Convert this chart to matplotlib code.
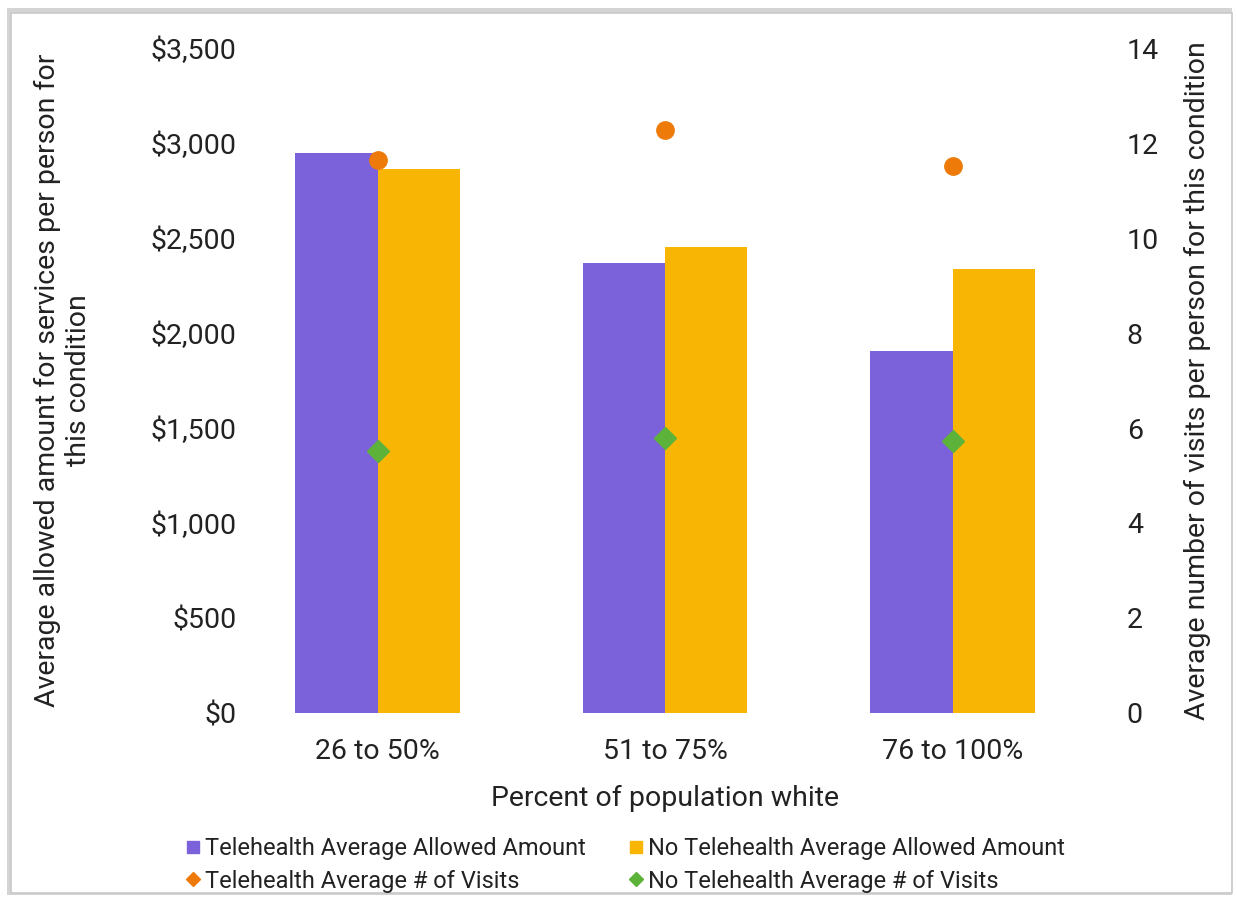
import matplotlib
import matplotlib.pyplot as plt
import numpy as np
from matplotlib.lines import Line2D
from matplotlib.patches import FancyBboxPatch
from matplotlib.ticker import FuncFormatter

matplotlib.use("Agg")

# data
kategorier = ["26 to 50%", "51 to 75%", "76 to 100%"]
tele_beloeb = [2950, 2370, 1905]
ingen_tele_beloeb = [2865, 2455, 2335]
tele_besoeg = [11.65, 12.28, 11.52]
ingen_tele_besoeg = [5.52, 5.78, 5.72]

LILLA = "#7B62DA"
GUL = "#F8B504"
ORANGE = "#EE7A0A"
GROEN = "#5DB33A"
TEKST = "#222222"
FS = 20.5

plt.rcParams["font.family"] = ["Roboto", "DejaVu Sans"]

fig = plt.figure(figsize=(12.37, 8.99), dpi=100)

# ramme med skygge rundt om det hele
skygge = FancyBboxPatch((0.006, 0.004), 0.990, 0.987, boxstyle="square,pad=0",
                        transform=fig.transFigure, facecolor="#d4d4d4",
                        edgecolor="none", zorder=-3)
ramme = FancyBboxPatch((0.009, 0.007), 0.987, 0.979, boxstyle="square,pad=0",
                       transform=fig.transFigure, facecolor="white",
                       edgecolor="#c8c8c8", linewidth=1.2, zorder=-2)
fig.patches.extend([skygge, ramme])

ax = fig.add_axes([0.2013, 0.2069, 0.6726, 0.7397])
ax.patch.set_alpha(0)
x = np.arange(len(kategorier))
bredde = 0.286

ax.bar(x - bredde / 2, tele_beloeb, bredde, color=LILLA,
       label="Telehealth Average Allowed Amount")
ax.bar(x + bredde / 2, ingen_tele_beloeb, bredde, color=GUL,
       label="No Telehealth Average Allowed Amount")

ax.set_xlim(-0.447, 2.447)
ax.set_ylim(0, 3500)
ax.set_yticks(np.arange(0, 3501, 500))
ax.yaxis.set_major_formatter(FuncFormatter(lambda v, _: f"${v:,.0f}"))
ax.set_xticks(x)
ax.set_xticklabels(kategorier)
ax.tick_params(axis="y", length=0, pad=9, labelsize=FS, labelcolor=TEKST)
ax.tick_params(axis="x", length=0, pad=18, labelsize=FS, labelcolor=TEKST)
for s in ax.spines.values():
    s.set_visible(False)
ax.set_xlabel("Percent of population white", fontsize=FS, color=TEKST, labelpad=14)
ax.set_ylabel("Average allowed amount for services per person for\nthis condition",
              fontsize=FS, color=TEKST, labelpad=42)

ax2 = ax.twinx()
ax2.plot(x, tele_besoeg, linestyle="none", marker="o", markersize=12.5,
         color=ORANGE, label="Telehealth Average # of Visits")
ax2.plot(x, ingen_tele_besoeg, linestyle="none", marker="D", markersize=11,
         color=GROEN, label="No Telehealth Average # of Visits")
ax2.set_ylim(0, 14)
ax2.set_yticks(np.arange(0, 15, 2))
ax2.tick_params(axis="y", length=0, pad=33, labelsize=FS, labelcolor=TEKST)
for s in ax2.spines.values():
    s.set_visible(False)
ax2.set_ylabel("Average number of visits per person for this condition",
               fontsize=FS, color=TEKST, labelpad=18)

labels = ["Telehealth Average Allowed Amount", "Telehealth Average # of Visits",
          "No Telehealth Average Allowed Amount", "No Telehealth Average # of Visits"]
markoerer = [
    Line2D([], [], linestyle="none", marker="s", markersize=8, color=LILLA),
    Line2D([], [], linestyle="none", marker="D", markersize=7, color=ORANGE),
    Line2D([], [], linestyle="none", marker="s", markersize=8, color=GUL),
    Line2D([], [], linestyle="none", marker="D", markersize=7, color=GROEN),
]
fig.legend(markoerer, labels, ncol=2, loc="center", bbox_to_anchor=(0.506, 0.038),
           frameon=False, fontsize=17, handlelength=0.5, handletextpad=0.25,
           columnspacing=1.9, labelspacing=0.4, labelcolor=TEKST)

fig.savefig("out.png", dpi=100)
